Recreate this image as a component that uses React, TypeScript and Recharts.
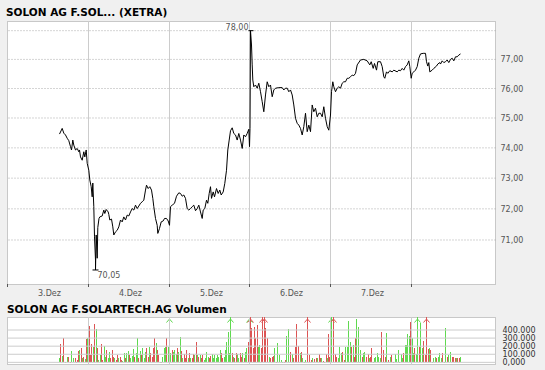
import React from 'react';
import {
  LineChart,
  Line,
  XAxis,
  YAxis,
  ReferenceLine,
  ReferenceDot,
  ComposedChart,
  Bar,
} from 'recharts';

const TITLE = 'SOLON AG F.SOL... (XETRA)';
const VOL_TITLE = 'SOLON AG F.SOLARTECH.AG Volumen';

// time axis: trading slots, one day = 81 slots, 3.Dez starts at 0
const TIME_DOMAIN: [number, number] = [0, 488];
const DAY_TICKS = [0, 81, 162, 242, 323, 404];
const DAY_LABELS = ['3.Dez', '4.Dez', '5.Dez', '6.Dez', '7.Dez'];

const PRICE_DOMAIN: [number, number] = [69.61, 78.34];
const PRICE_TICKS = [71, 72, 73, 74, 75, 76, 77];
const PRICE_GRID = [71, 72, 73, 74, 75, 76, 77, 78];

const HIGH_POINT = { t: 243, v: 78.0, label: '78,00' };
const LOW_POINT = { t: 88, v: 70.05, label: '70,05' };

// [slot, price]
const PRICE_POINTS: [number, number][] = [
  [52, 74.46], [54.7, 74.65], [56.3, 74.49], [58, 74.43], [59.7, 74.32], [61.3, 74.24], [63, 74.04], [64, 73.93], [65.3, 74.26], [66.3, 74.09],
  [68, 73.93], [69.7, 73.98], [71.3, 73.87], [72, 73.93], [73, 73.7], [74.7, 73.59], [76.3, 73.87], [77.3, 73.7], [78.7, 73.93], [79.7, 73.49],
  [81.3, 73.26], [82.3, 72.94], [83.7, 72.72], [84.7, 72.39], [85.3, 72.84], [86.3, 72.07], [87, 71.1], [88, 70.36], [88, 70.05], [88.7, 71.16],
  [89.7, 70.42], [90.3, 71.4], [91.5, 71.69], [92.3, 71.74], [94.7, 71.77], [96.3, 71.96], [97.3, 71.85], [98.7, 71.98], [100.7, 71.9], [101.3, 71.82],
  [102.3, 71.64], [104, 71.67], [105.3, 71.42], [106.3, 71.16], [108, 71.26], [109.7, 71.31], [111.3, 71.42], [113, 71.64], [114.7, 71.58], [116.3, 71.74],
  [118, 71.64], [119.7, 71.8], [121.3, 71.77], [123, 71.9], [124.7, 72.01], [126.3, 71.96], [128, 72.12], [129.7, 72.01], [131.3, 72.09], [133, 72.18],
  [134.7, 72.23], [136.3, 72.28], [138, 72.61], [139, 72.77], [140.7, 72.66], [142.3, 72.72], [144, 72.61], [145.3, 72.34], [146.3, 72.07], [148, 71.69],
  [149.7, 71.47], [150.3, 71.21], [152, 71.37], [153.7, 71.58], [155.7, 71.61], [157, 71.69], [159, 71.69], [160.7, 71.61], [162, 71.47], [163, 72.07],
  [164.7, 72.12], [167, 72.18], [169, 72.41], [171.3, 72.52], [173, 72.5], [174.7, 72.41], [176.3, 72.45], [178, 72.34], [179.7, 72.01], [181.3, 71.96],
  [183, 72.01], [184.7, 72.07], [186.3, 72.12], [188, 71.94], [189.7, 72.01], [191.3, 72.12], [193, 71.9], [194.7, 71.69], [195.7, 71.96], [197.3, 72.01],
  [199, 72.28], [200.3, 72.18], [201.7, 72.5], [203, 72.72], [204, 72.34], [205.7, 72.55], [207, 72.39], [209, 72.66], [210.7, 72.5], [212.3, 72.61],
  [213.7, 72.45], [215.7, 72.55], [217.3, 72.83], [219, 73.26], [220.3, 73.93], [221.7, 74.26], [223, 74.57], [224.7, 74.67], [226.3, 74.48], [228, 74.43],
  [229.7, 74.26], [231.3, 74.48], [233, 74.26], [234.7, 73.98], [236.3, 74.43], [238, 74.37], [239.7, 74.48], [241.3, 74.62], [242, 74.04], [242.5, 74.65],
  [243, 78.0], [244, 77.5], [244.7, 76.81], [245.3, 76.29], [246.3, 76.06], [248, 76.12], [249.7, 76.01], [251.3, 76.18], [253, 75.89], [254.7, 75.55],
  [256.3, 75.21], [258, 75.78], [259.7, 76.23], [261.3, 76.06], [263, 76.12], [264.7, 75.72], [266.3, 75.95], [268, 76.01], [271.3, 76.03], [274.7, 76.03],
  [276.3, 75.95], [278, 76.01], [279.7, 76.01], [281.3, 75.89], [283, 75.95], [284.7, 75.78], [286.3, 75.44], [288, 74.99], [289.7, 74.82], [291.3, 74.76],
  [293, 74.65], [294.7, 74.43], [296.3, 74.71], [298, 75.16], [299.7, 74.54], [301.3, 74.76], [303, 74.54], [304.7, 75.44], [306.3, 75.21], [308, 75.33],
  [309.7, 75.04], [311.3, 75.16], [313, 75.16], [314.7, 75.04], [316.3, 75.38], [318, 74.99], [319.7, 74.71], [321.3, 74.59], [323, 75.1], [324, 75.89],
  [325.3, 76.23], [326.3, 76.06], [328, 75.89], [329.7, 76.01], [331.3, 76.06], [333, 76.01], [334.7, 76.18], [336.3, 76.23], [338, 76.23], [339.7, 76.35],
  [341.3, 76.35], [343, 76.4], [344.7, 76.46], [346.3, 76.44], [348, 76.52], [349.7, 76.81], [353, 76.98], [356.3, 77.0], [359.7, 76.95], [362.3, 76.81],
  [363.7, 76.92], [365.7, 76.69], [367, 76.86], [369, 76.63], [370.3, 76.92], [373, 76.92], [374.7, 76.75], [376.3, 76.4], [377.3, 76.35], [379, 76.57],
  [380.3, 76.52], [382.3, 76.61], [384.7, 76.57], [386.3, 76.63], [389.7, 76.57], [391.3, 76.63], [393, 76.61], [394.7, 76.69], [396.3, 76.63], [398, 76.75],
  [399.7, 76.81], [401.3, 76.95], [402.3, 76.75], [403.7, 76.35], [404.7, 76.52], [406.3, 76.57], [408, 76.63], [409.7, 76.75], [411.3, 77.04], [413, 77.19],
  [415.7, 77.21], [418, 77.21], [419, 76.92], [420.3, 76.77], [421.3, 76.89], [422.3, 76.57], [424.7, 76.63], [426.3, 76.69], [429, 76.77], [430.3, 76.84],
  [432.3, 76.89], [433, 76.84], [434.7, 76.95], [436.3, 76.89], [438, 76.92], [439.7, 76.98], [441.3, 76.89], [443, 77.0], [444.7, 77.04], [446.3, 76.95],
  [448, 77.09], [449.7, 77.09], [451.3, 77.15], [453, 77.19],
];

const VOL_DOMAIN: [number, number] = [-33000, 561000];
const VOL_TICKS = [0, 100000, 200000, 300000, 400000];
const VOL_TICK_LABELS = ['0,000', '100.000', '200.000', '300.000', '400.000'];

// [slot, volume in thousands, direction u=up d=down]
const VOLUME_BARS: [number, number, string][] = [
  [52.3, 58, 'u'], [53.3, 227, 'd'], [55.3, 78, 'u'], [56.3, 305, 'd'], [58.3, 8, 'u'], [60.3, 70, 'u'], [61.3, 70, 'd'], [63, 8, 'd'], [64.3, 140, 'u'], [66.3, 50, 'u'],
  [68, 58, 'd'], [69, 8, 'u'], [70.3, 29, 'd'], [71.3, 140, 'd'], [72.3, 153, 'u'], [73.7, 173, 'd'], [75, 50, 'u'], [76.3, 70, 'd'], [77.7, 41, 'u'], [79, 289, 'd'],
  [80.3, 297, 'u'], [81.7, 450, 'd'], [83, 91, 'd'], [84.3, 223, 'd'], [85.7, 194, 'u'], [87.3, 470, 'd'], [88.7, 413, 'u'], [90, 182, 'd'], [91.3, 29, 'u'], [92.7, 91, 'u'],
  [94, 223, 'd'], [95.3, 29, 'd'], [96.7, 202, 'u'], [98, 70, 'u'], [99.3, 153, 'd'], [100.7, 50, 'u'], [102, 124, 'u'], [103.3, 50, 'd'], [104.7, 153, 'd'], [106, 70, 'd'],
  [107.3, 50, 'u'], [108.7, 29, 'd'], [110, 91, 'd'], [111.3, 58, 'u'], [112.7, 70, 'd'], [114, 29, 'd'], [115.3, 17, 'u'], [116.7, 111, 'u'], [118, 50, 'd'], [119.3, 111, 'u'],
  [120.7, 140, 'u'], [122, 91, 'd'], [123.3, 50, 'u'], [124.7, 83, 'u'], [126, 165, 'u'], [127.3, 70, 'd'], [128.7, 111, 'u'], [130, 297, 'u'], [131.3, 58, 'd'], [132.7, 140, 'u'],
  [134, 91, 'd'], [135.3, 182, 'u'], [136.7, 50, 'u'], [138, 132, 'u'], [139.3, 173, 'd'], [140.7, 70, 'd'], [142, 194, 'u'], [143.3, 111, 'd'], [144.7, 70, 'd'], [146, 182, 'd'],
  [147.3, 305, 'd'], [148.7, 235, 'u'], [150, 153, 'd'], [151.3, 91, 'd'], [152.7, 8, 'u'], [154, 8, 'd'], [155.3, 70, 'u'], [156.7, 182, 'u'], [158, 194, 'u'], [159.3, 297, 'd'],
  [160.7, 194, 'u'], [162, 650, 'u'], [163.3, 120, 'u'], [164.7, 153, 'd'], [166, 132, 'u'], [167.3, 153, 'u'], [168.7, 99, 'u'], [170, 173, 'd'], [171.3, 124, 'u'], [172.7, 318, 'u'],
  [174, 140, 'd'], [175.3, 50, 'u'], [176.7, 99, 'd'], [178, 50, 'd'], [179.3, 153, 'd'], [180.7, 58, 'u'], [182, 111, 'd'], [183.3, 50, 'u'], [184.7, 58, 'd'], [186, 99, 'd'],
  [187.3, 91, 'u'], [188.7, 256, 'd'], [190, 91, 'u'], [191.3, 70, 'd'], [192.7, 91, 'u'], [194, 50, 'd'], [195.3, 91, 'd'], [196.7, 29, 'u'], [198, 50, 'u'], [199.3, 132, 'u'],
  [200.7, 70, 'u'], [202, 50, 'd'], [203.3, 83, 'd'], [204.7, 99, 'u'], [206, 58, 'u'], [207.3, 91, 'u'], [208.7, 50, 'u'], [210, 91, 'u'], [211.3, 70, 'u'], [212.7, 153, 'u'],
  [214, 111, 'd'], [215.3, 58, 'd'], [216.7, 70, 'u'], [218, 153, 'u'], [219.3, 256, 'u'], [220.7, 380, 'u'], [222, 111, 'u'], [223, 650, 'u'], [224.7, 111, 'd'], [226, 70, 'u'],
  [227.3, 58, 'd'], [228.7, 111, 'd'], [230, 99, 'u'], [231.3, 50, 'u'], [232.7, 111, 'd'], [234, 70, 'd'], [235.3, 111, 'u'], [236.7, 50, 'd'], [238, 132, 'u'], [239.3, 173, 'u'],
  [240.7, 256, 'd'], [242, 650, 'u'], [243, 650, 'd'], [244.3, 421, 'd'], [245.7, 173, 'd'], [247, 441, 'd'], [248.3, 305, 'd'], [249.7, 462, 'd'], [251, 194, 'u'], [252.3, 215, 'u'],
  [253.7, 173, 'd'], [255, 650, 'd'], [256.7, 650, 'd'], [258.3, 421, 'd'], [260.3, 297, 'd'], [261.7, 70, 'u'], [263, 50, 'd'], [264.7, 70, 'd'], [265.7, 83, 'd'], [267.3, 173, 'u'],
  [268.7, 8, 'd'], [270.3, 235, 'u'], [272, 91, 'u'], [273.7, 29, 'u'], [275.3, 8, 'u'], [277, 8, 'd'], [278.3, 29, 'd'], [279.3, 325, 'u'], [281.3, 413, 'u'], [283, 132, 'd'],
  [284.7, 99, 'u'], [286.3, 50, 'd'], [287.7, 194, 'd'], [289.3, 474, 'd'], [291, 206, 'd'], [292.7, 111, 'u'], [294.3, 124, 'd'], [295.3, 50, 'u'], [296.7, 8, 'u'], [298.3, 29, 'u'],
  [300.3, 650, 'd'], [302.3, 91, 'd'], [303.7, 29, 'd'], [305.3, 50, 'u'], [307, 41, 'd'], [308.7, 50, 'd'], [310, 50, 'u'], [311.7, 99, 'd'], [313, 50, 'd'], [314.3, 50, 'u'],
  [315.7, 21, 'd'], [317, 8, 'u'], [318.7, 99, 'd'], [320, 50, 'u'], [321.3, 346, 'd'], [322.3, 70, 'd'], [323.7, 650, 'u'], [325.7, 650, 'd'], [327.7, 99, 'd'], [329.3, 70, 'd'],
  [330.7, 50, 'u'], [332.3, 194, 'u'], [334, 111, 'u'], [335.3, 132, 'd'], [336.7, 29, 'd'], [338.3, 194, 'u'], [339.7, 194, 'u'], [341.3, 511, 'u'], [343, 256, 'u'], [344.3, 194, 'd'],
  [345.7, 215, 'u'], [347, 70, 'd'], [348.3, 297, 'd'], [349.3, 536, 'u'], [351, 441, 'u'], [353, 153, 'u'], [354.7, 70, 'd'], [356.3, 111, 'u'], [357.3, 132, 'u'], [359, 70, 'd'],
  [360.7, 99, 'd'], [361.7, 50, 'u'], [363, 70, 'd'], [364.3, 182, 'd'], [365.7, 8, 'u'], [367, 50, 'u'], [368.3, 70, 'u'], [369.7, 115, 'u'], [371.3, 70, 'u'], [372.7, 50, 'u'],
  [374.3, 371, 'd'], [376, 153, 'd'], [377.7, 70, 'd'], [379.3, 359, 'u'], [381, 29, 'd'], [382.7, 70, 'u'], [384, 91, 'd'], [385.7, 8, 'd'], [387.7, 99, 'u'], [389, 41, 'u'],
  [390.7, 153, 'u'], [392.3, 8, 'u'], [394, 99, 'u'], [395.3, 50, 'u'], [396.3, 111, 'd'], [397.7, 215, 'u'], [399, 215, 'u'], [400.3, 346, 'u'], [402, 330, 'u'], [403.3, 503, 'd'],
  [404.7, 297, 'u'], [406, 111, 'u'], [407.3, 173, 'd'], [409, 99, 'u'], [410.3, 650, 'u'], [412, 194, 'd'], [413.3, 483, 'u'], [414.7, 173, 'u'], [416.3, 264, 'd'], [417.7, 91, 'd'],
  [419.3, 650, 'd'], [420.7, 165, 'd'], [422, 173, 'u'], [423.3, 153, 'd'], [424.7, 8, 'u'], [426.3, 50, 'u'], [427.7, 70, 'u'], [429, 50, 'd'], [430.7, 70, 'u'], [432, 111, 'u'],
  [434, 50, 'u'], [435.3, 111, 'd'], [436.7, 8, 'u'], [438.3, 429, 'u'], [439.7, 70, 'd'], [441.3, 91, 'u'], [443, 132, 'u'], [444.7, 70, 'd'], [446.3, 70, 'd'], [447.7, 58, 'd'],
  [449, 50, 'u'], [450.3, 50, 'd'], [451.7, 50, 'd'], [453.3, 70, 'u'],
];

const FONT = 'DejaVu Sans, Verdana, sans-serif';
const GREEN = '#5fd94f';
const RED = '#dc5454';
const VOL_TOP = 17;

const DayTick = (props: any) => {
  const { x, y, index } = props;
  return (
    <g>
      <line x1={x} x2={x} y1={y} y2={y + 3} stroke="#555" strokeWidth={1} />
      {index < DAY_LABELS.length && (
        <text x={x + 42} y={y + 12} textAnchor="middle" fontFamily={FONT} fontSize={8} fill="#555">
          {DAY_LABELS[index]}
        </text>
      )}
    </g>
  );
};

const PriceTick = (props: any) => {
  const { x, y, payload } = props;
  return (
    <text x={x} y={y + 3} textAnchor="start" fontFamily={FONT} fontSize={8} fill="#555">
      {payload.value.toFixed(2).replace('.', ',')}
    </text>
  );
};

const VolTick = (props: any) => {
  const { x, y, payload } = props;
  const i = VOL_TICKS.indexOf(payload.value);
  return (
    <text x={x} y={y + 3} textAnchor="start" fontFamily={FONT} fontSize={8} fill="#333">
      {VOL_TICK_LABELS[i]}
    </text>
  );
};

const HighMarker = (p: any) => (
  <g>
    <line x1={p.cx - 2} x2={p.cx + 3} y1={p.cy} y2={p.cy} stroke="#000" />
    <text x={p.cx - 2} y={p.cy - 0.5} textAnchor="end" fontFamily={FONT} fontSize={8} fill="#555">
      {HIGH_POINT.label}
    </text>
  </g>
);

const LowMarker = (p: any) => (
  <g>
    <line x1={p.cx - 3} x2={p.cx + 3} y1={p.cy} y2={p.cy} stroke="#000" />
    <text x={p.cx + 2} y={p.cy + 8} textAnchor="start" fontFamily={FONT} fontSize={8} fill="#555">
      {LOW_POINT.label}
    </text>
  </g>
);

const VolShape = (props: any) => {
  const { x, y, width, height, payload } = props;
  const color = payload.d === 'u' ? GREEN : RED;
  const rx = Math.round(x + width / 2 - 0.5);
  const bottom = Math.round(y + height);
  if (y < VOL_TOP) {
    const cx = rx + 0.5;
    return (
      <g>
        <rect x={rx} y={VOL_TOP} width={1} height={bottom - VOL_TOP} fill={color} />
        <path d={`M${cx - 3},${VOL_TOP + 5.5}L${cx},${VOL_TOP + 2}L${cx + 3},${VOL_TOP + 5.5}`} stroke={color} fill="none" strokeWidth={1} />
      </g>
    );
  }
  const ry = Math.round(y);
  return <rect x={rx} y={ry} width={1} height={Math.max(bottom - ry, 1)} fill={color} />;
};

export default function App() {
  const priceData = PRICE_POINTS.map(([t, v]) => ({ t, v }));
  const volData = VOLUME_BARS.map(([t, k, d]) => ({ t, v: k * 1000, d }));

  return (
    <div style={{ position: 'absolute', left: 0, top: 0, width: 545, height: 370, background: '#f0f0f0', overflow: 'hidden' }}>
      <svg width={545} height={370} style={{ position: 'absolute', left: 0, top: 0 }}>
        <text x={6} y={16} fontFamily={FONT} fontWeight="bold" fontSize={10.5} fill="#000">{TITLE}</text>
        <rect x={7.5} y={21.5} width={488} height={263} fill="#fff" stroke="#c8c8c8" />
        <text x={7} y={313} fontFamily={FONT} fontWeight="bold" fontSize={10.5} fill="#000">{VOL_TITLE}</text>
        <rect x={7.5} y={317.5} width={488} height={47} fill="#fff" stroke="#c8c8c8" />
      </svg>
      <div style={{ position: 'absolute', left: 0, top: 0 }}>
        <LineChart width={545} height={300} data={priceData} margin={{ top: 21, right: 0, bottom: 0, left: 7.5 }}>
          <XAxis type="number" dataKey="t" domain={TIME_DOMAIN} ticks={DAY_TICKS} interval={0} height={16}
            axisLine={false} tickLine={false} tickSize={0} tickMargin={0} tick={<DayTick />} allowDataOverflow />
          <YAxis orientation="right" type="number" scale="log" domain={PRICE_DOMAIN} ticks={PRICE_TICKS} width={49.5}
            axisLine={false} tickLine={false} tickSize={0} tickMargin={5} tick={<PriceTick />} allowDataOverflow interval={0} />
          {PRICE_GRID.map((v) => (
            <ReferenceLine key={'h' + v} y={v} stroke="#aaa" strokeDasharray="1 2" />
          ))}
          {DAY_TICKS.slice(1).map((t) => (
            <ReferenceLine key={'v' + t} x={t} stroke="#ccc" />
          ))}
          <Line type="linear" dataKey="v" stroke="#000" strokeWidth={1} dot={false} isAnimationActive={false} />
          <ReferenceDot x={HIGH_POINT.t} y={HIGH_POINT.v} r={0} shape={<HighMarker />} />
          <ReferenceDot x={LOW_POINT.t} y={LOW_POINT.v} r={0} shape={<LowMarker />} />
        </LineChart>
      </div>
      <div style={{ position: 'absolute', left: 0, top: 300 }}>
        <ComposedChart width={545} height={70} data={volData} margin={{ top: VOL_TOP, right: 0, bottom: 5, left: 7.5 }}>
          <XAxis type="number" dataKey="t" domain={TIME_DOMAIN} hide allowDataOverflow />
          <YAxis orientation="right" type="number" domain={VOL_DOMAIN} ticks={VOL_TICKS} width={49.5} interval={0}
            axisLine={false} tickLine={false} tickSize={0} tickMargin={7} tick={<VolTick />} allowDataOverflow />
          {VOL_TICKS.map((v) => (
            <ReferenceLine key={'vh' + v} y={v} stroke="#ccc" />
          ))}
          {DAY_TICKS.slice(1).map((t) => (
            <ReferenceLine key={'vv' + t} x={t} stroke="#ccc" />
          ))}
          <Bar dataKey="v" barSize={1} shape={<VolShape />} isAnimationActive={false} />
        </ComposedChart>
      </div>
    </div>
  );
}
